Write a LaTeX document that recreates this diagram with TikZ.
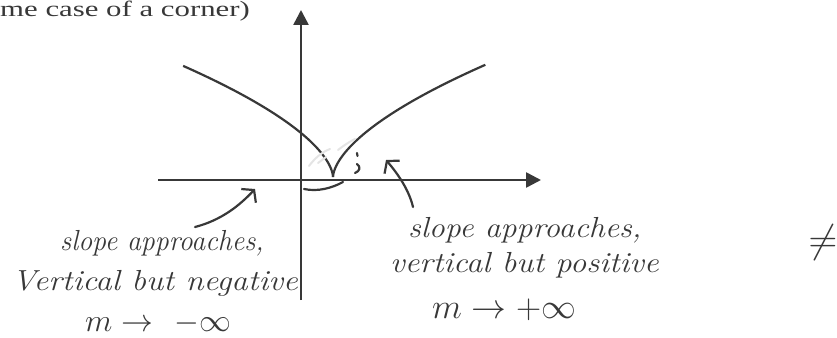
\documentclass[tikz,border=0pt]{standalone}
\usepackage{fontspec}
\newfontfamily\printfont{Liberation Serif}
\usetikzlibrary{arrows.meta}
\definecolor{ink}{HTML}{383838}
\definecolor{faint}{HTML}{E4E4E4}
\tikzset{
  axisline/.style={draw=ink, line width=2.6pt, -{Triangle[length=15pt,width=15pt]}},
  curveline/.style={draw=ink, line width=2.2pt, line join=round},
  pen/.style={draw=ink, line width=2.2pt, line cap=round, line join=round},
  faintpen/.style={draw=faint, line width=2pt, line cap=round},
  penarrow/.style={pen, -{Straight Barb[length=8pt,width=20pt,line width=2.2pt]}},
  hand/.style={text=ink, inner sep=0pt, anchor=base west, font=\fontsize{29}{32}\selectfont\itshape},
  printed/.style={text=ink, inner sep=0pt, anchor=base west, font=\printfont\fontsize{22}{24}\selectfont}
}
\begin{document}
\begin{tikzpicture}[x=1pt,y=-1pt]
\useasboundingbox (0,0) rectangle (837,337);

% printed fragment of the heading
\node[printed] (title) at (0,17) {\scalebox{1.4}[1]{me case of a corner)}};

% axes
\coordinate (xl) at (158,180);
\coordinate (xr) at (541,180);
\coordinate (yb) at (301,300);
\coordinate (yt) at (301,10);
\draw[axisline] (xl) -- (xr);
\draw[axisline] (yb) -- (yt);

% the curve with a cusp
\coordinate (cusp) at (333,177);
\draw[curveline] (cusp) -- plot[domain=0.05:20.2, samples=60, variable=\u] ({333-pow(\u,1.6667)},{177-5.5*\u});
\draw[curveline] (cusp) -- plot[domain=0.05:20.4, samples=60, variable=\u] ({333+pow(\u,1.6667)},{177-5.5*\u});

% faint erased strokes near the cusp
\draw[faintpen] (309,166) .. controls (315,158) and (322,152) .. (330,149);
\draw[faintpen] (338,150) .. controls (343,146) and (349,142) .. (355,139);
\draw[faintpen] (318,163) -- (326,157);

% small pen marks near the cusp
\draw[pen] (357,153) -- (357.5,156);
\draw[pen] (357,164) .. controls (361,167) and (360,171) .. (355,173);
\coordinate (under1) at (304,189);
\coordinate (under2) at (343,182);
\draw[pen] (under1) .. controls (318,192) and (332,188) .. (under2);

% left annotation
\node[hand] (L1) at (60,250) {\scalebox{0.96}[1]{slope approaches,}};
\node[hand] (L2) at (12,290) {\scalebox{1.13}[1]{Vertical but negative}};
\node[hand] (L3) at (85,331) {\scalebox{1.28}{$m \to\ -\infty$}};
\coordinate (ltail) at (195,227);
\coordinate (ltip) at (255,189);
\draw[penarrow] (ltail) .. controls (222,220) and (240,205) .. (ltip);

% right annotation
\node[hand] (R1) at (408,237) {\scalebox{1.1}[1]{slope approaches,}};
\node[hand] (R2) at (390,272) {\scalebox{1.12}[1]{vertical but positive}};
\node[hand] (R3) at (432,318) {\scalebox{1.4}{$m \to +\infty$}};
\coordinate (rtail) at (413,207);
\coordinate (rtip) at (386,160);
\draw[penarrow] (rtail) .. controls (409,190) and (398,174) .. (rtip);

% not-equal sign at the right edge
\node[text=ink, inner sep=0pt, font=\fontsize{29}{32}\selectfont] (neq) at (823,243) {\scalebox{1.6}{$\neq$}};
\end{tikzpicture}
\end{document}
